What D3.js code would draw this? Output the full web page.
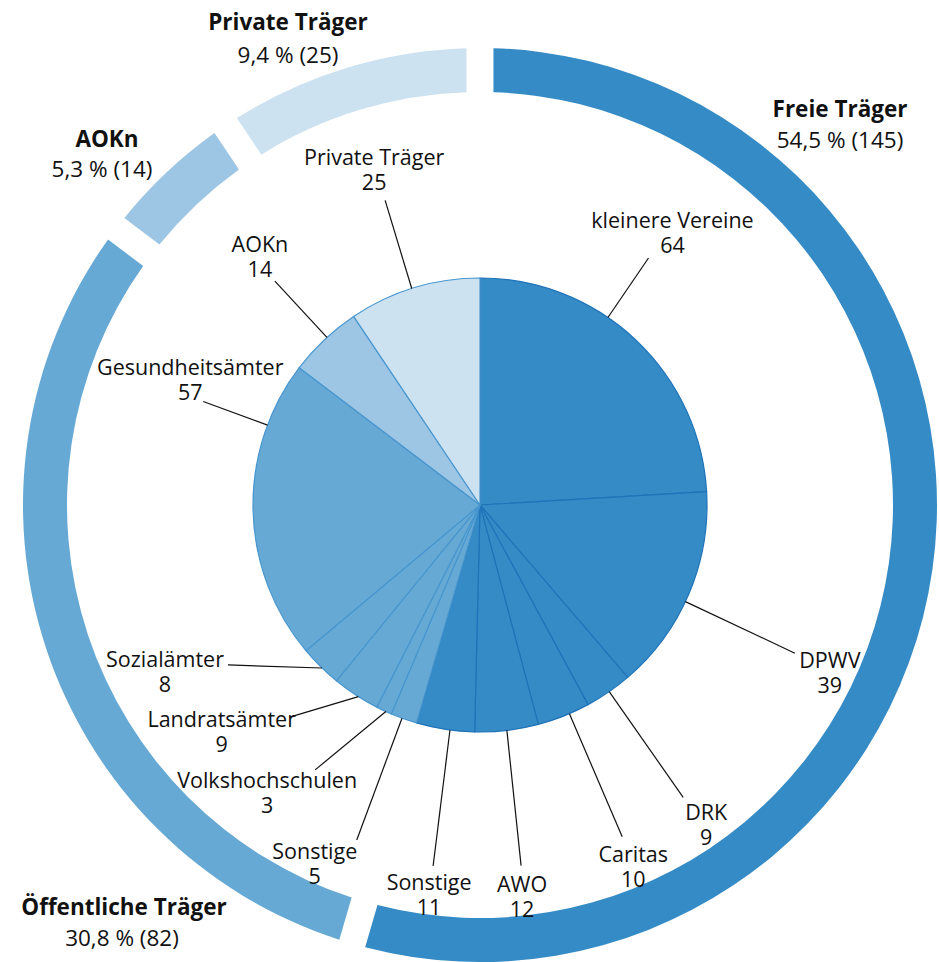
<!DOCTYPE html>
<html>
<head>
<meta charset="utf-8">
<script src="https://cdn.jsdelivr.net/npm/d3@7"></script>
<style>
  html, body { margin: 0; padding: 0; background: #fff; }
  svg { display: block; }
  text { font-family: "Open Sans", "Noto Sans", sans-serif; fill: #111; }
</style>
</head>
<body>
<svg id="chart" width="939" height="962"></svg>
<script>
// ---- data ----
const groups = ["Freie Träger", "Öffentliche Träger", "AOKn", "Private Träger"];
const categories = ["kleinere Vereine", "DPWV", "DRK", "Caritas", "AWO", "Sonstige",
                    "Sonstige", "Volkshochschulen", "Landratsämter", "Sozialämter", "Gesundheitsämter",
                    "AOKn", "Private Träger"];
const categoryGroup = ["Freie Träger", "Freie Träger", "Freie Träger", "Freie Träger", "Freie Träger", "Freie Träger",
                       "Öffentliche Träger", "Öffentliche Träger", "Öffentliche Träger", "Öffentliche Träger", "Öffentliche Träger",
                       "AOKn", "Private Träger"];
const values = [64, 39, 9, 10, 12, 11, 5, 3, 9, 8, 57, 14, 25];

// ---- styles ----
const groupFill = {"Freie Träger": "#358bc6", "Öffentliche Träger": "#66a9d4", "AOKn": "#9cc6e4", "Private Träger": "#cde2f1"};
const groupStroke = {"Freie Träger": "#1f73b8", "Öffentliche Träger": "#4896cf", "AOKn": "#4896cf", "Private Träger": "#4896cf"};

// label layout: [line start angle (deg), line end angle (deg), line end radius, text dx, text dy]
const labelLayout = [
  [34.3, 34.3, 299, 24, -30],
  [115.2, 115.2, 348, 35, 15],
  [145.3, 145.2, 356, 23, 23],
  [156.8, 156.8, 361, 11, 25],
  [173.2, 173.5, 363, 1, 26],
  [187.6, 187.4, 364, -4, 24],
  [200.1, 200.2, 357, -42, 19],
  [204.5, 211.9, 312, -48, 18],
  [212.4, 221.9, 285, -68, 10],
  [224.1, 237.6, 298.5, -63, 2],
  [290.6, 290.5, 295.5, -13, -27],
  [317.6, 317.5, 303.6, -15, -29],
  [342.5, 342.7, 319, -11, -35]
];
// ring label layout: [x line1, y line1, x line2, y line2]
const ringLabelLayout = [
  [840, 117, 840, 148],
  [124, 915, 122, 946],
  [107, 147, 102, 177],
  [288, 30, 288, 63]
];

const svg = d3.select("#chart");
const cx = 480, cy = 505;
const pieR = 227;
const ringInner = 413, ringOuter = 457;
const g = svg.append("g").attr("transform", `translate(${cx},${cy})`);

const total = d3.sum(values);
const items = categories.map((c, i) => ({name: c, group: categoryGroup[i], value: values[i], i}));

// ---- outer ring ----
const groupSums = groups.map(gr => ({group: gr, value: d3.sum(items.filter(d => d.group === gr), d => d.value)}));
const ringPie = d3.pie().sort(null).value(d => d.value);
const ringArc = d3.arc().innerRadius(ringInner).outerRadius(ringOuter).padRadius(100).padAngle(0.27);
g.selectAll("path.ring").data(ringPie(groupSums)).join("path")
  .attr("class", "ring")
  .attr("d", ringArc)
  .attr("fill", d => groupFill[d.data.group]);

// ---- inner pie ----
const pie = d3.pie().sort(null).value(d => d.value);
const arc = d3.arc().innerRadius(0).outerRadius(pieR);
const arcs = pie(items);
g.selectAll("path.slice").data(arcs).join("path")
  .attr("class", "slice")
  .attr("d", arc)
  .attr("fill", d => groupFill[d.data.group])
  .attr("stroke", d => groupStroke[d.data.group])
  .attr("stroke-width", 1.2)
  .attr("stroke-linejoin", "round");

// ---- leader lines & labels ----
const rad = a => a * Math.PI / 180;
const pt = (a, r) => [r * Math.sin(rad(a)), -r * Math.cos(rad(a))];
items.forEach((d, i) => {
  const [a0, a1, r1, dx, dy] = labelLayout[i];
  const p0 = pt(a0, pieR), p1 = pt(a1, r1);
  g.append("line")
    .attr("x1", p0[0]).attr("y1", p0[1])
    .attr("x2", p1[0]).attr("y2", p1[1])
    .attr("stroke", "#111").attr("stroke-width", 1.2);
  const t = g.append("text")
    .attr("text-anchor", "middle")
    .attr("font-size", 21.5);
  t.append("tspan").attr("x", p1[0] + dx).attr("y", p1[1] + dy).text(d.name);
  t.append("tspan").attr("x", p1[0] + dx).attr("y", p1[1] + dy + 25).text(d.value);
});

// ---- ring labels ----
const fmt = v => (Math.round(v * 10) / 10).toFixed(1).replace(".", ",");
groupSums.forEach((d, i) => {
  const [x1, y1, x2, y2] = ringLabelLayout[i];
  svg.append("text").attr("x", x1).attr("y", y1)
    .attr("text-anchor", "middle").attr("font-size", 22.5).attr("font-weight", "bold")
    .text(d.group);
  svg.append("text").attr("x", x2).attr("y", y2)
    .attr("text-anchor", "middle").attr("font-size", 22.5)
    .text(`${fmt(d.value / total * 100)} % (${d.value})`);
});
</script>
</body>
</html>
